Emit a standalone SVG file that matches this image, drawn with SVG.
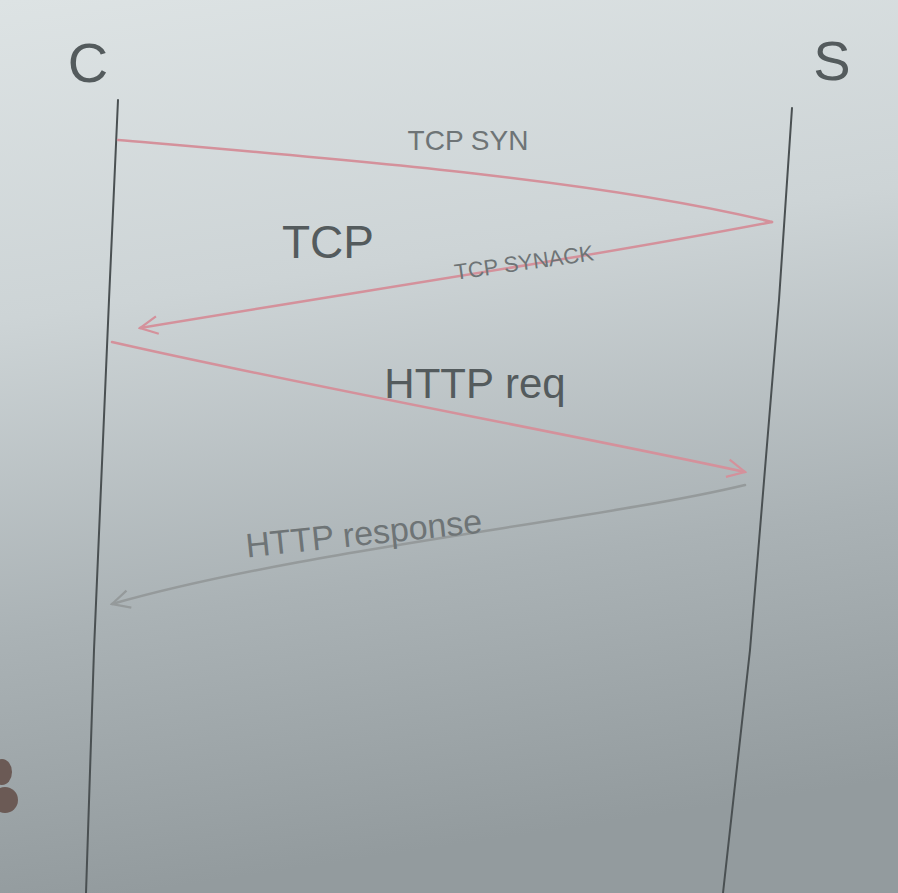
<svg xmlns="http://www.w3.org/2000/svg" width="898" height="893" viewBox="0 0 898 893">
<defs>
<linearGradient id="bg" x1="0" y1="0" x2="0.15" y2="1">
<stop offset="0" stop-color="#dde3e4"/>
<stop offset="0.35" stop-color="#cdd4d6"/>
<stop offset="0.7" stop-color="#aab2b5"/>
<stop offset="1" stop-color="#939b9e"/>
</linearGradient>
<marker id="ah" viewBox="0 0 20 20" refX="18" refY="10" markerWidth="22" markerHeight="22" markerUnits="userSpaceOnUse" orient="auto">
<path d="M2,2 L18,10 L2,18" fill="none" stroke="context-stroke" stroke-width="2"/>
</marker>
<style>
.life{fill:none;stroke:#4a5052;stroke-width:2;stroke-linecap:round}
.msg{fill:none;stroke-width:2.5;stroke-linecap:round}
.red{stroke:#d4919b}
.gray{stroke:#959a9b}
.lbl{font-family:"Liberation Sans","DejaVu Sans",sans-serif;fill:#6e7476}
.big{font-family:"Liberation Sans","DejaVu Sans",sans-serif;fill:#545b5d}
</style>
</defs>
<rect width="898" height="893" fill="url(#bg)"/>
<g id="client">
<text class="big" x="88" y="82" font-size="56" text-anchor="middle">C</text>
<path class="life" d="M118,100 L109,300 L94,650 L86,893"/>
</g>
<g id="server">
<text class="big" x="832" y="80" font-size="56" text-anchor="middle">S</text>
<path class="life" d="M792,108 L779,300 L750,650 L723,893"/>
</g>
<g id="connectors">
<path class="msg red" d="M118,140 C350,160 600,180 772,222"/>
<path class="msg red" d="M772,222 C600,255 400,285 140,328" marker-end="url(#ah)"/>
<path class="msg red" d="M112,342 C300,385 550,430 745,472" marker-end="url(#ah)"/>
<path class="msg gray" d="M745,485 C600,520 300,550 112,604" marker-end="url(#ah)"/>
</g>
<g id="labels">
<text class="lbl" x="468" y="150" font-size="28" text-anchor="middle">TCP SYN</text>
<text class="big" x="328" y="258" font-size="46" text-anchor="middle">TCP</text>
<text class="lbl" x="525" y="270" font-size="22" text-anchor="middle" transform="rotate(-8 525 270)">TCP SYNACK</text>
<text class="big" x="475" y="398" font-size="42" text-anchor="middle">HTTP req</text>
<text class="lbl" x="365" y="545" font-size="34" text-anchor="middle" transform="rotate(-6 365 545)">HTTP response</text>
</g>
<g id="fingers">
<ellipse cx="2" cy="772" rx="10" ry="13" fill="#6b5a55"/>
<ellipse cx="5" cy="800" rx="13" ry="13" fill="#6b5a55"/>
</g>
</svg>
